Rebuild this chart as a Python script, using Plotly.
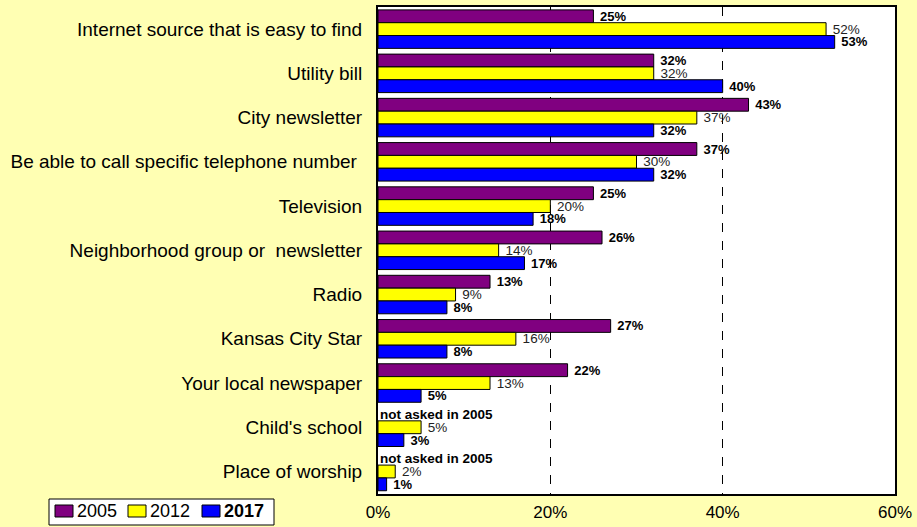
import plotly.graph_objects as go

categories = [
    "Internet source that is easy to find",
    "Utility bill",
    "City newsletter",
    "Be able to call specific telephone number ",
    "Television",
    "Neighborhood group or  newsletter",
    "Radio",
    "Kansas City Star",
    "Your local newspaper",
    "Child's school",
    "Place of worship",
]
v2005 = [25, 32, 43, 37, 25, 26, 13, 27, 22, None, None]
v2012 = [52, 32, 37, 30, 20, 14, 9, 16, 13, 5, 2]
v2017 = [53, 40, 32, 32, 18, 17, 8, 8, 5, 3, 1]
x_ticks = [0, 20, 40, 60]
years = ["2005", "2012", "2017"]
colors = ["#800080", "#FFFF00", "#0000FF"]

BG = "#FFFFB3"
FONT = "Liberation Sans, Arial, sans-serif"

# plot-area geometry in pixels (used for the hand-drawn legend box)
W, H = 917, 527
ML, MR, MT, MB = 378, 22, 7, 33
PW, PH = W - ML - MR, H - MT - MB


def px_x(px):
    return (px - ML) / PW


def px_y(py):
    return (H - MB - py) / PH


def labels(vals, bold):
    out = []
    for v in vals:
        if v is None:
            out.append("")
        else:
            s = f"{v}%"
            out.append("\u00a0" + (f"<b>{s}</b>" if bold else s))
    return out


fig = go.Figure()
series = [
    (v2005, True, "#000000", 13),
    (v2012, False, "#222222", 13.5),
    (v2017, True, "#000000", 13),
]
for (vals, bold, tcolor, tsize), name, color in zip(series, years, colors):
    fig.add_trace(go.Bar(
        y=categories, x=vals, name=name, orientation="h",
        marker=dict(color=color, line=dict(color="#000000", width=1)),
        text=labels(vals, bold), textposition="outside", constraintext="none",
        textfont=dict(family=FONT, size=tsize, color=tcolor),
        outsidetextfont=dict(family=FONT, size=tsize, color=tcolor),
        cliponaxis=False, showlegend=False,
    ))

# 2005 not surveyed for the last two items
for cat, v in zip(categories, v2005):
    if v is None:
        fig.add_annotation(
            x=0, y=cat, xref="x", yref="y", text="<b>not asked in 2005</b>",
            showarrow=False, xanchor="left", yanchor="middle", yshift=13, xshift=0,
            font=dict(family=FONT, size=13.5, color="#000000"),
        )

# legend box in the lower-left corner
shapes = [dict(
    type="rect", xref="paper", yref="paper",
    x0=px_x(49), x1=px_x(274), y0=px_y(525), y1=px_y(499),
    fillcolor="#FFFFFF", line=dict(color="#000000", width=1),
)]
swatch_x = [55, 128, 202]
for sx, name, color in zip(swatch_x, years, colors):
    shapes.append(dict(
        type="rect", xref="paper", yref="paper",
        x0=px_x(sx), x1=px_x(sx + 18), y0=px_y(517), y1=px_y(505),
        fillcolor=color, line=dict(color="#000000", width=1),
    ))
    fig.add_annotation(
        x=px_x(sx + 20), y=px_y(511), xref="paper", yref="paper",
        text=f"<b>{name}</b>" if name == "2017" else name,
        showarrow=False, xanchor="left", yanchor="middle",
        font=dict(family=FONT, size=18, color="#000000"),
    )

fig.update_layout(
    width=W, height=H,
    margin=dict(l=ML, r=MR, t=MT, b=MB, autoexpand=False),
    paper_bgcolor=BG, plot_bgcolor="#FFFFFF",
    barmode="group", bargap=0.13, bargroupgap=0,
    font=dict(family=FONT, size=16, color="#000000"),
    showlegend=False, shapes=shapes,
)
fig.update_xaxes(
    range=[0, 60], tickvals=x_ticks, ticktext=[f"{t}%" for t in x_ticks],
    showgrid=True, gridcolor="#000000", griddash="dash", gridwidth=1,
    showline=True, linecolor="#000000", linewidth=2, mirror=True,
    zeroline=False, tickfont=dict(family=FONT, size=17), ticklabelstandoff=2,
)
fig.update_yaxes(
    autorange="reversed", showline=True, linecolor="#000000", linewidth=2,
    mirror=True, ticklabelstandoff=10, tickfont=dict(family=FONT, size=19),
)

fig.write_html("out.html")
